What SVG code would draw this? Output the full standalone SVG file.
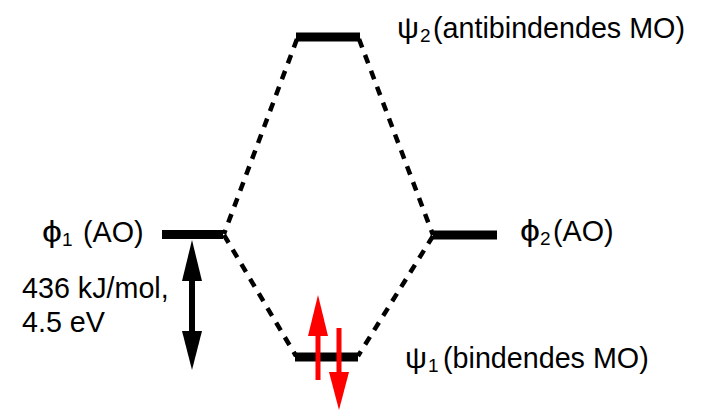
<svg xmlns="http://www.w3.org/2000/svg" width="702" height="412" viewBox="0 0 702 412">
<style>
.bar{stroke:#000;stroke-width:9;fill:none}
.dash{stroke:#000;stroke-width:4.5;stroke-dasharray:9 8;fill:none}
.t{font-family:"Liberation Sans",Arial,sans-serif;font-size:28.7px;fill:#000}
.sub{font-size:19px}
</style>
<rect width="702" height="412" fill="#fff"/>
<g id="connectors">
<line class="dash" x1="297" y1="39" x2="224" y2="234"/>
<line class="dash" x1="359" y1="39" x2="433" y2="235"/>
<line class="dash" x1="224" y1="235" x2="296" y2="356"/>
<line class="dash" x1="433" y1="236" x2="358" y2="356"/>
</g>
<g id="psi2">
<line class="bar" x1="296" y1="37" x2="360" y2="37"/>
<text class="t" x="397" y="38" textLength="22" lengthAdjust="spacingAndGlyphs">ψ</text>
<text class="t sub" x="420" y="42">2</text>
<text class="t" x="433" y="38">(antibindendes MO)</text>
</g>
<g id="phi1">
<line class="bar" x1="162" y1="234.5" x2="223" y2="234.5"/>
<text class="t" x="42" y="242" textLength="20" lengthAdjust="spacingAndGlyphs">ϕ</text>
<text class="t sub" x="62" y="246">1</text>
<text class="t" x="83" y="242">(AO)</text>
</g>
<g id="phi2">
<line class="bar" x1="433" y1="235" x2="497" y2="235"/>
<text class="t" x="520" y="241" textLength="20" lengthAdjust="spacingAndGlyphs">ϕ</text>
<text class="t sub" x="540" y="245">2</text>
<text class="t" x="553" y="241">(AO)</text>
</g>
<g id="psi1">
<line class="bar" x1="295" y1="357" x2="358" y2="357"/>
<text class="t" x="405" y="368" textLength="22" lengthAdjust="spacingAndGlyphs">ψ</text>
<text class="t sub" x="428" y="372">1</text>
<text class="t" x="443" y="368">(bindendes MO)</text>
</g>
<g id="electrons">
<line x1="318" y1="330" x2="318" y2="380" stroke="#f00" stroke-width="5"/>
<polygon points="318,295 328,336 308,336" fill="#f00"/>
<line x1="339" y1="328" x2="339" y2="376" stroke="#f00" stroke-width="5"/>
<polygon points="339,410 349,372 329,372" fill="#f00"/>
</g>
<g id="energy">
<line x1="192" y1="275" x2="192" y2="336" stroke="#000" stroke-width="6"/>
<polygon points="192,240 202,281 182,281" fill="#000"/>
<polygon points="192,370 202,331 182,331" fill="#000"/>
<text class="t" x="22" y="298">436 kJ/mol,</text>
<text class="t" x="22" y="332">4.5 eV</text>
</g>
</svg>
